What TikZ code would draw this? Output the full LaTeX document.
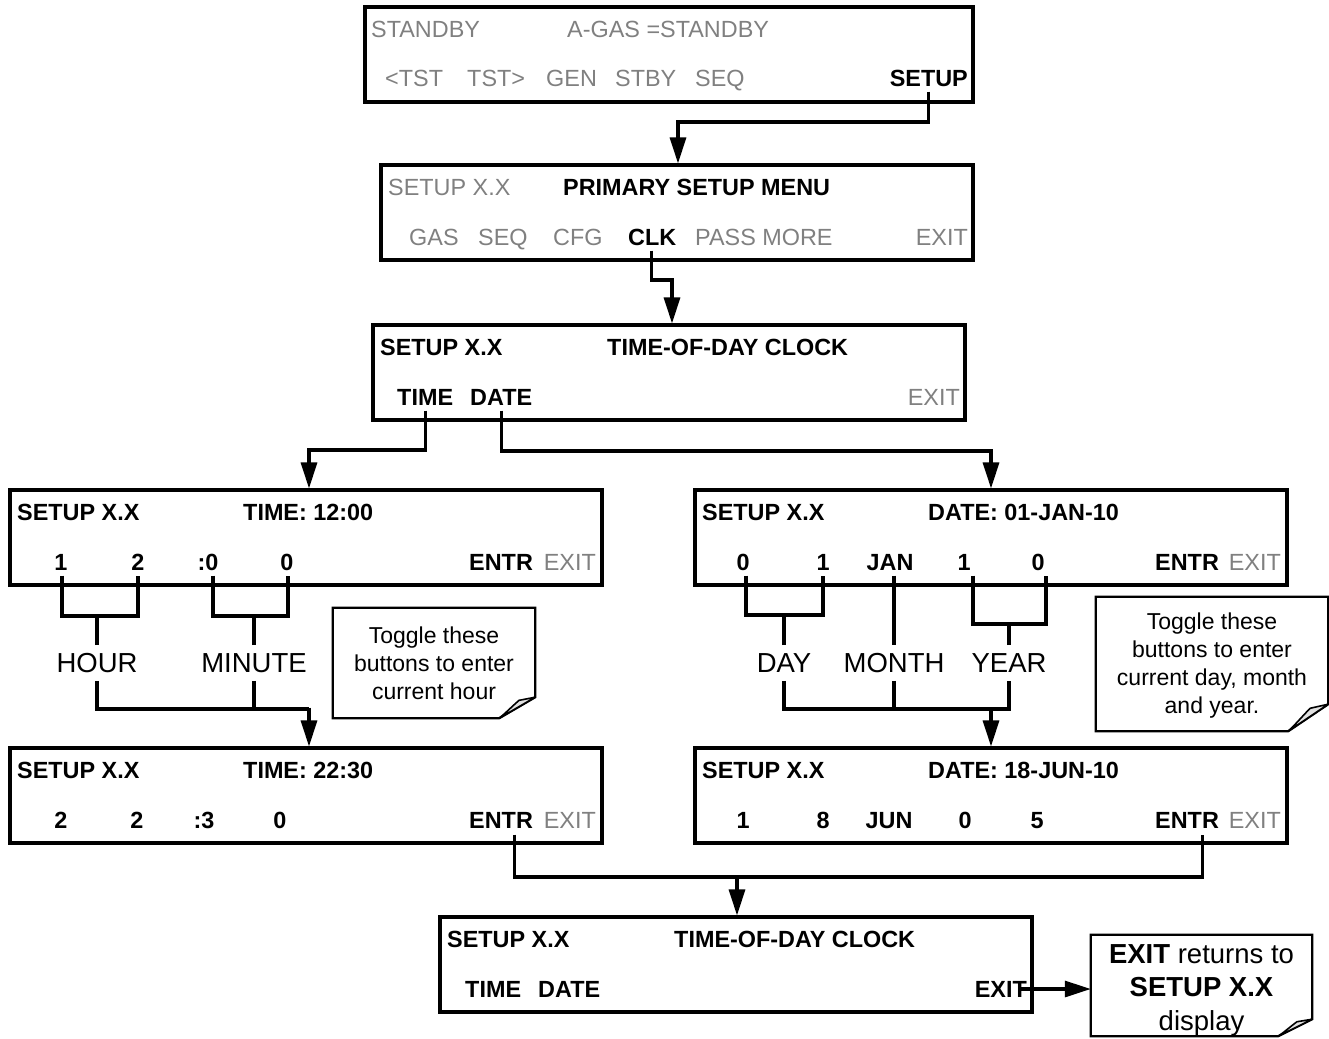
\documentclass[tikz,border=0pt]{standalone}
\usepackage{fontspec}
\setmainfont{Liberation Sans}
\usetikzlibrary{arrows.meta,calc}
\definecolor{lcdgray}{RGB}{128,128,128}
\definecolor{foldgray}{RGB}{225,225,225}
\newcommand\fontB{\fontsize{23.4}{28}\selectfont\bfseries}
\newcommand\fontR{\fontsize{23.4}{28}\selectfont}
\newcommand\fontL{\fontsize{27.5}{33}\selectfont}
\newcommand\fontN{\fontsize{23}{28}\selectfont}
\newcommand\fontE{\fontsize{27.5}{33.5}\selectfont}
\newcommand\notepath[3]{%
  \pgfmathsetmacro\nbx{-0.45*#2}\pgfmathsetmacro\nby{0.85*#3}%
  \pgfmathsetmacro\ncx{-0.62*#2}\pgfmathsetmacro\ncy{0.6*#3}%
  \pgfmathsetmacro\ndx{-0.85*#2}\pgfmathsetmacro\ndy{0.2*#3}%
  \draw[noteline] (#1.north west) -- (#1.north east) -- ([yshift=#3pt]#1.south east)
     -- ([xshift=-#2pt]#1.south east) -- (#1.south west) -- cycle;
  \filldraw[foldline] ([yshift=#3pt]#1.south east) -- ([shift={({\nbx pt},{\nby pt})}]#1.south east)
     .. controls ([shift={({\ncx pt},{\ncy pt})}]#1.south east) and ([shift={({\ndx pt},{\ndy pt})}]#1.south east)
     .. ([xshift=-#2pt]#1.south east) -- cycle;
}
\begin{document}
\begin{tikzpicture}[x=1pt,y=-1pt,
  disp/.style={draw, line width=3.1pt, minimum width=592pt, minimum height=95pt, inner sep=0pt},
  bt/.style={font=\fontB, text=black, inner sep=0pt, text height=16.7pt, text depth=0pt},
  gt/.style={font=\fontR, text=lcdgray, inner sep=0pt, text height=16.7pt, text depth=0pt},
  lbl/.style={font=\fontL, inner xsep=0pt, inner ysep=8pt, text height=19.5pt, text depth=0pt},
  conn/.style={line width=3.1pt, line join=miter},
  arr/.style={conn, -{Triangle[length=26pt,width=16pt]}},
  note/.style={font=\fontN, align=center, inner sep=0pt},
  noteline/.style={line width=2.3pt, line join=miter},
  foldline/.style={line width=1.6pt, fill=foldgray, line join=round}
]
\useasboundingbox (0,0) rectangle (1329,1038);

% ---------- Box 1 ----------
\node[disp, minimum width=608pt] (b1) at (669,54.5) {};
\node[gt, anchor=west] (t1a) at (371,29) {STANDBY};
\node[gt, anchor=west] (t1b) at (567,29) {A-GAS =STANDBY};
\node[gt, anchor=west] (t1c) at (385,78) {<TST};
\node[gt, anchor=west] (t1d) at (467,78) {TST>};
\node[gt, anchor=west] (t1e) at (546,78) {GEN};
\node[gt, anchor=west] (t1f) at (615,78) {STBY};
\node[gt, anchor=west] (t1g) at (695,78) {SEQ};
\node[bt, anchor=east] (t1setup) at (968,78) {SETUP};

% ---------- Box 2 ----------
\node[disp] (b2) at (677,212.5) {};
\node[gt, anchor=west] (t2a) at (388,187.5) {SETUP X.X};
\node[bt, anchor=west] (t2b) at (563,187.5) {PRIMARY SETUP MENU};
\node[gt, anchor=west] (t2c) at (409,237) {GAS};
\node[gt, anchor=west] (t2d) at (478,237) {SEQ};
\node[gt, anchor=west] (t2e) at (553,237) {CFG};
\node[bt, anchor=west] (t2clk) at (628,237) {CLK};
\node[gt, anchor=west] (t2f) at (695,237) {PASS MORE};
\node[gt, anchor=east] (t2g) at (968,237) {EXIT};

% ---------- Box 3 ----------
\node[disp] (b3) at (669,372.5) {};
\node[bt, anchor=west] (t3a) at (380,347.5) {SETUP X.X};
\node[bt, anchor=west] (t3b) at (607,347.5) {TIME-OF-DAY CLOCK};
\node[bt, anchor=west] (t3time) at (397,397) {TIME};
\node[bt, anchor=west] (t3date) at (470,397) {DATE};
\node[gt, anchor=east] (t3exit) at (960,397) {EXIT};

% ---------- Box 4 ----------
\node[disp] (b4) at (306,537.5) {};
\node[bt, anchor=west] (t4a) at (17,512.5) {SETUP X.X};
\node[bt, anchor=west] (t4b) at (243,512.5) {TIME: 12:00};
\node[bt] (d41) at (61,562) {1};
\node[bt] (d42) at (138,562) {2};
\node[bt] (d43) at (208,562) {:0};
\node[bt] (d44) at (287,562) {0};
\node[bt, anchor=west] (t4entr) at (469,562) {ENTR};
\node[gt, anchor=east] (t4exit) at (596,562) {EXIT};

% ---------- Box 5 ----------
\node[disp] (b5) at (991,537.5) {};
\node[bt, anchor=west] (t5a) at (702,512.5) {SETUP X.X};
\node[bt, anchor=west] (t5b) at (928,512.5) {DATE: 01-JAN-10};
\node[bt] (d51) at (743,562) {0};
\node[bt] (d52) at (823,562) {1};
\node[bt] (d53) at (890,562) {JAN};
\node[bt] (d54) at (964,562) {1};
\node[bt] (d55) at (1038,562) {0};
\node[bt, anchor=west] (t5entr) at (1155,562) {ENTR};
\node[gt, anchor=east] (t5exit) at (1281,562) {EXIT};

% ---------- Box 6 ----------
\node[disp] (b6) at (306,795.5) {};
\node[bt, anchor=west] (t6a) at (17,770.5) {SETUP X.X};
\node[bt, anchor=west] (t6b) at (243,770.5) {TIME: 22:30};
\node[bt] (d61) at (61,820) {2};
\node[bt] (d62) at (137,820) {2};
\node[bt] (d63) at (204,820) {:3};
\node[bt] (d64) at (280,820) {0};
\node[bt, anchor=west] (t6entr) at (469,820) {ENTR};
\node[gt, anchor=east] (t6exit) at (596,820) {EXIT};

% ---------- Box 7 ----------
\node[disp] (b7) at (991,795.5) {};
\node[bt, anchor=west] (t7a) at (702,770.5) {SETUP X.X};
\node[bt, anchor=west] (t7b) at (928,770.5) {DATE: 18-JUN-10};
\node[bt] (d71) at (743,820) {1};
\node[bt] (d72) at (823,820) {8};
\node[bt] (d73) at (889,820) {JUN};
\node[bt] (d74) at (965,820) {0};
\node[bt] (d75) at (1037,820) {5};
\node[bt, anchor=west] (t7entr) at (1155,820) {ENTR};
\node[gt, anchor=east] (t7exit) at (1281,820) {EXIT};

% ---------- Box 8 ----------
\node[disp] (b8) at (736,964.5) {};
\node[bt, anchor=west] (t8a) at (447,939.5) {SETUP X.X};
\node[bt, anchor=west] (t8b) at (674,939.5) {TIME-OF-DAY CLOCK};
\node[bt, anchor=west] (t8time) at (465,989) {TIME};
\node[bt, anchor=west] (t8date) at (538,989) {DATE};
\node[bt, anchor=east] (t8exit) at (1027,989) {EXIT};

% ---------- Labels ----------
\node[lbl] (hour) at (97,663) {HOUR};
\node[lbl] (minute) at (254,663) {MINUTE};
\node[lbl] (day) at (784,663) {DAY};
\node[lbl] (month) at (894,663) {MONTH};
\node[lbl] (year) at (1009,663) {YEAR};

% ---------- Notes ----------
\node[note, minimum width=202pt, minimum height=110pt] (note1) at (434,663)
  {Toggle these\\buttons to enter\\current hour};
\notepath{note1}{36}{21}
\node[note, minimum width=232pt, minimum height=134pt] (note2) at (1212,664) {};
\node[note] (note2text) at (1212,666)
  {Toggle these\\buttons to enter\\current day, month\\and year.};
\notepath{note2}{40}{27}
\node[note, minimum width=221pt, minimum height=101pt] (exitnote) at (1201.5,985.5) {};
\node[note, font=\fontE] (exittext) at (1201.5,990)
  {\textbf{EXIT} returns to\\\textbf{SETUP X.X}\\display};
\notepath{exitnote}{34}{17}

% ---------- Junction coordinates ----------
\coordinate (j1) at (678,122);
\coordinate (j2) at (672,280);
\coordinate (j3) at (309,450);
\coordinate (j4) at (991,451);
\coordinate (hb) at (0,616);
\coordinate (db) at (0,615);
\coordinate (yb) at (0,624);
\coordinate (j5) at (309,709);
\coordinate (j6) at (991,709);
\coordinate (yj) at (0,709);
\coordinate (j7) at (737,877);

% ---------- Menu connectors ----------
\draw[arr] ([yshift=-5pt]t1setup.south) |- (j1) -- (j1 |- b2.north);
\draw[arr] ([xshift=-1pt,yshift=-5pt]t2clk.south) |- (j2) -- (j2 |- b3.north);
\draw[arr] ([yshift=-5pt]t3time.south) |- (j3) -- (j3 |- b4.north);
\draw[arr] ([yshift=-5pt]t3date.south) |- (j4) -- (j4 |- b5.north);

% ---------- Time brackets ----------
\draw[conn] ([xshift=1pt,yshift=-5pt]d41.south) |- (hb -| hour.north) -| ([yshift=-5pt]d42.south);
\draw[conn] (hour.north) -- (hour.north |- hb);
\draw[conn] ([xshift=5pt,yshift=-5pt]d43.south) |- (hb -| minute.north) -| ([xshift=1pt,yshift=-5pt]d44.south);
\draw[conn] (minute.north) -- (minute.north |- hb);
\draw[conn] (hour.south) |- (j5);
\draw[conn] (minute.south) -- (minute.south |- yj);
\draw[arr] ([yshift=1.5pt]j5) -- (j5 |- b6.north);

% ---------- Date brackets ----------
\draw[conn] ([xshift=3pt,yshift=-5pt]d51.south) |- (db -| day.north) -| ([yshift=-5pt]d52.south);
\draw[conn] (day.north) -- (day.north |- db);
\draw[conn] (month.north |- d53.south) ++(0,5) -- (month.north);
\draw[conn] ([xshift=9pt,yshift=-5pt]d54.south) |- (yb -| year.north) -| ([xshift=8pt,yshift=-5pt]d55.south);
\draw[conn] (year.north) -- (year.north |- yb);
\draw[conn] (day.south) |- (year.south |- yj) -- (year.south);
\draw[conn] (month.south) -- (month.south |- yj);
\draw[arr] ([yshift=1.5pt]j6) -- (j6 |- b7.north);

% ---------- ENTR connectors ----------
\draw[conn] ([xshift=13pt,yshift=-6pt]t6entr.south) |- (j7) -| ([xshift=15pt,yshift=-6pt]t7entr.south);
\draw[arr] ([yshift=1.5pt]j7) -- (j7 |- b8.north);

% ---------- EXIT connector ----------
\draw[arr] ([xshift=-6pt]t8exit.east) -- (t8exit.east -| exitnote.west);
\end{tikzpicture}
\end{document}
